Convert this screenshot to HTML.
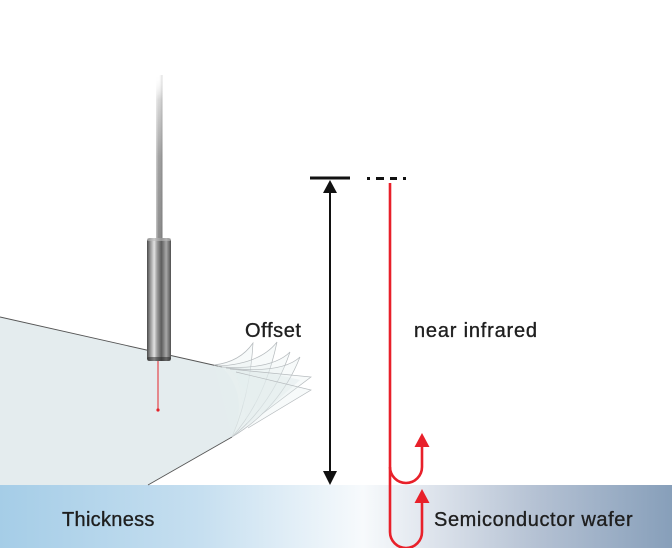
<!DOCTYPE html>
<html><head><meta charset="utf-8"><style>
html,body{margin:0;padding:0;background:#fff;}
svg{display:block;}
text{font-family:"Liberation Sans",sans-serif;fill:#1f1f1f;font-size:20px;stroke:#1f1f1f;stroke-width:0.35px;}
</style></head><body>
<svg width="672" height="548" viewBox="0 0 672 548" xmlns="http://www.w3.org/2000/svg">
<defs>
<linearGradient id="band" x1="0" y1="0" x2="1" y2="0">
<stop offset="0" stop-color="#a5cde7"/>
<stop offset="0.3" stop-color="#c6dff0"/>
<stop offset="0.54" stop-color="#f7fafc"/>
<stop offset="0.62" stop-color="#e4e9f0"/>
<stop offset="0.8" stop-color="#b4c1d3"/>
<stop offset="1" stop-color="#879fba"/>
</linearGradient>
<linearGradient id="cableV" x1="0" y1="0" x2="0" y2="1">
<stop offset="0" stop-color="#ffffff" stop-opacity="0"/>
<stop offset="0.15" stop-color="#d8d8d8"/>
<stop offset="0.5" stop-color="#a0a0a0"/>
<stop offset="1" stop-color="#8a8a8a"/>
</linearGradient>
<linearGradient id="cableH" x1="0" y1="0" x2="1" y2="0">
<stop offset="0" stop-color="#fff" stop-opacity="0.5"/>
<stop offset="0.4" stop-color="#fff" stop-opacity="0"/>
<stop offset="1" stop-color="#000" stop-opacity="0.15"/>
</linearGradient>
<linearGradient id="body" x1="0" y1="0" x2="1" y2="0">
<stop offset="0" stop-color="#4a4a4a"/>
<stop offset="0.15" stop-color="#9a9a9a"/>
<stop offset="0.3" stop-color="#e2e2e2"/>
<stop offset="0.42" stop-color="#9c9c9c"/>
<stop offset="0.6" stop-color="#5c5c5c"/>
<stop offset="0.8" stop-color="#a8a8a8"/>
<stop offset="1" stop-color="#505050"/>
</linearGradient>
</defs>

<!-- bottom band -->
<rect x="0" y="485" width="672" height="63" fill="url(#band)"/>

<!-- wafer plane -->
<path d="M0 317 L222 367 Q250 395 232 437 L148 485 L0 485 Z" fill="#e4ecee"/>
<path d="M222 367 Q270 372 300 380 L262 414 L232 437 Q250 395 222 367 Z" fill="#e8eff1" fill-opacity="0.7"/>
<path d="M0 317 L222 367" stroke="#555" stroke-width="0.9" fill="none"/>
<path d="M232 437 L148 485" stroke="#555" stroke-width="0.9" fill="none"/>

<!-- curled sheets -->
<g fill="#e6eef0" fill-opacity="0.3" stroke="#b5babd" stroke-width="0.7">
<path d="M214 365 Q240 362 253 343 Q250 395 232 437"/>
<path d="M218 366 Q260 364 277 342 Q265 400 232 437"/>
<path d="M222 367 Q272 370 290 352 Q272 405 232 437"/>
<path d="M226 368 Q282 374 300 357 Q280 408 232 437"/>
<path d="M230 369 L311 377 L262 414"/>
<path d="M236 372 L311 390 L248 428"/>
</g>

<!-- probe cable -->
<rect x="156" y="75" width="6.5" height="164" fill="url(#cableV)"/>
<rect x="156" y="75" width="6.5" height="164" fill="url(#cableH)"/>
<!-- probe body -->
<rect x="147" y="238" width="24" height="123" rx="3" fill="url(#body)"/>
<rect x="147" y="238" width="24" height="3" rx="1.5" fill="#bbb" opacity="0.6"/>
<rect x="147" y="357" width="24" height="4" rx="2" fill="#222" opacity="0.5"/>

<!-- laser -->
<line x1="158" y1="361" x2="158" y2="410" stroke="#e3232a" stroke-width="1"/>
<circle cx="158" cy="410" r="1.6" fill="#e3232a"/>

<!-- black offset arrow -->
<rect x="310" y="176.5" width="40" height="3" fill="#111"/>
<line x1="330" y1="190" x2="330" y2="473" stroke="#111" stroke-width="2"/>
<polygon points="330,180 323,193 337,193" fill="#111"/>
<polygon points="330,485 323,471 337,471" fill="#111"/>

<!-- dashes -->
<g fill="#111">
<rect x="367" y="177" width="3" height="3"/>
<rect x="376" y="177" width="8" height="3"/>
<rect x="390" y="177" width="7" height="3"/>
<rect x="403" y="177" width="3" height="3"/>
</g>

<!-- red near-infrared path -->
<g stroke="#e8202a" stroke-width="2.6" fill="none">
<path d="M390 183 V532 A16 16 0 0 0 422 532 V500"/>
<path d="M390 467 A16 16 0 0 0 422 467 V445"/>
</g>
<polygon points="422,433 414.5,447 429.5,447" fill="#e8202a"/>
<polygon points="422,489 414.5,503 429.5,503" fill="#e8202a"/>

<!-- labels -->
<text x="245" y="337" style="letter-spacing:0.6px">Offset</text>
<text x="414" y="337" style="letter-spacing:0.8px">near infrared</text>
<text x="62" y="526" style="letter-spacing:0.3px">Thickness</text>
<text x="434" y="526" style="letter-spacing:0.6px">Semiconductor wafer</text>
</svg>
</body></html>
